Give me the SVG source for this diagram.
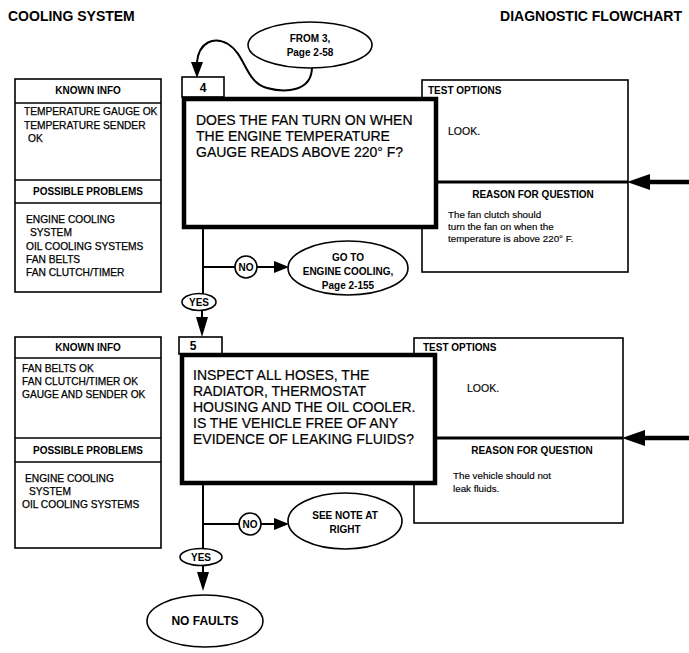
<svg xmlns="http://www.w3.org/2000/svg" width="689" height="653" viewBox="0 0 689 653">
<defs>
<style>
text{font-family:"Liberation Sans",Arial,sans-serif;fill:#000}
.h{font-size:14px;font-weight:bold}
.b{font-size:10px;font-weight:bold}
.i{font-size:10.2px;stroke:#000;stroke-width:0.25}
.q{font-size:14px;stroke:#000;stroke-width:0.2}
.r{font-size:9.8px;stroke:#000;stroke-width:0.15}
.c{text-anchor:middle}
.box{fill:#fff;stroke:#000;stroke-width:1.6}
.thick{fill:#fff;stroke:#000;stroke-width:4.5}
.ln{fill:none;stroke:#000;stroke-width:2}
.ah{fill:#000}
</style>
</defs>
<rect width="689" height="653" fill="#fff"/>
<text class="h" x="8" y="21">COOLING SYSTEM</text>
<text class="h" x="682" y="21" text-anchor="end">DIAGNOSTIC FLOWCHART</text>

<g id="connectors">
<path class="ln" d="M312,67 C312,92 285,93 267,88 C245,82 246,55 228,44 C214,36 199,42 197,62"/>
<polygon class="ah" points="191,62 203,62 197,78"/>
<line class="ln" x1="203" y1="227" x2="203" y2="294"/>
<line class="ln" x1="203" y1="267" x2="235" y2="267"/>
<line class="ln" x1="257" y1="267" x2="276" y2="267"/>
<polygon class="ah" points="274,261 274,273 289,267"/>
<line class="ln" x1="202" y1="310" x2="202" y2="320"/>
<polygon class="ah" points="196,317 208,317 202,337"/>
<line class="ln" x1="203" y1="483" x2="203" y2="549"/>
<line class="ln" x1="203" y1="524" x2="239" y2="524"/>
<line class="ln" x1="261" y1="524" x2="276" y2="524"/>
<polygon class="ah" points="274,518 274,530 289,524"/>
<line class="ln" x1="203" y1="565" x2="203" y2="575"/>
<polygon class="ah" points="197,572 209,572 203,591"/>
<line x1="689" y1="182" x2="645" y2="182" stroke="#000" stroke-width="4.5"/>
<polygon class="ah" points="627,182 650,174 650,190"/>
<line x1="689" y1="438" x2="640" y2="438" stroke="#000" stroke-width="4.5"/>
<polygon class="ah" points="622,438 645,430 645,446"/>
</g>

<g id="from3">
<ellipse class="box" cx="310" cy="45" rx="62" ry="23"/>
<text class="b c" x="310" y="42">FROM 3,</text>
<text class="b c" x="310" y="56">Page 2-58</text>
</g>

<g id="info4">
<rect class="box" x="15" y="79" width="146" height="213"/>
<line class="ln" x1="15" y1="103" x2="161" y2="103" style="stroke-width:1.6"/>
<line class="ln" x1="15" y1="180" x2="161" y2="180" style="stroke-width:1.6"/>
<line class="ln" x1="15" y1="203" x2="161" y2="203" style="stroke-width:1.6"/>
<text class="b c" x="88" y="94">KNOWN INFO</text>
<text class="i" x="24" y="115">TEMPERATURE GAUGE OK</text>
<text class="i" x="24" y="129">TEMPERATURE SENDER</text>
<text class="i" x="28" y="142">OK</text>
<text class="b c" x="88" y="195">POSSIBLE PROBLEMS</text>
<text class="i" x="26" y="223">ENGINE COOLING</text>
<text class="i" x="30" y="236">SYSTEM</text>
<text class="i" x="26" y="250">OIL COOLING SYSTEMS</text>
<text class="i" x="26" y="263">FAN BELTS</text>
<text class="i" x="26" y="276">FAN CLUTCH/TIMER</text>
</g>

<g id="test4">
<rect class="box" x="422" y="80" width="206" height="192"/>
<text class="b" x="428" y="94">TEST OPTIONS</text>
<text class="r" x="448" y="135" style="font-size:10.5px">LOOK.</text>
<line x1="436" y1="182" x2="628" y2="182" stroke="#000" stroke-width="3"/>
<text class="b c" x="533" y="198">REASON FOR QUESTION</text>
<text class="r" x="448" y="218">The fan clutch should</text>
<text class="r" x="448" y="230">turn the fan on when the</text>
<text class="r" x="448" y="242">temperature is above 220° F.</text>
</g>

<g id="step4">
<rect class="box" x="182" y="77" width="42" height="20"/>
<text class="b c" x="203" y="92" style="font-size:12px">4</text>
<rect class="thick" x="184" y="99" width="252" height="128"/>
<text class="q" x="196" y="125">DOES THE FAN TURN ON WHEN</text>
<text class="q" x="196" y="141">THE ENGINE TEMPERATURE</text>
<text class="q" x="196" y="157">GAUGE READS ABOVE 220° F?</text>
</g>

<g id="no4">
<circle class="box" cx="246" cy="267" r="11"/>
<text class="b c" x="246" y="271">NO</text>
</g>
<g id="goto">
<ellipse class="box" cx="348" cy="268" rx="60" ry="27"/>
<text class="b c" x="348" y="261">GO TO</text>
<text class="b c" x="348" y="275">ENGINE COOLING,</text>
<text class="b c" x="348" y="289">Page 2-155</text>
</g>
<g id="yes4">
<ellipse class="box" cx="199" cy="302" rx="17" ry="8.5"/>
<text class="b c" x="199" y="306">YES</text>
</g>

<g id="info5">
<rect class="box" x="15" y="337" width="146" height="211"/>
<line class="ln" x1="15" y1="358" x2="161" y2="358" style="stroke-width:1.6"/>
<line class="ln" x1="15" y1="438" x2="161" y2="438" style="stroke-width:1.6"/>
<line class="ln" x1="15" y1="462" x2="161" y2="462" style="stroke-width:1.6"/>
<text class="b c" x="88" y="351">KNOWN INFO</text>
<text class="i" x="22" y="372">FAN BELTS OK</text>
<text class="i" x="22" y="385">FAN CLUTCH/TIMER OK</text>
<text class="i" x="22" y="398">GAUGE AND SENDER OK</text>
<text class="b c" x="88" y="454">POSSIBLE PROBLEMS</text>
<text class="i" x="25" y="482">ENGINE COOLING</text>
<text class="i" x="29" y="495">SYSTEM</text>
<text class="i" x="22" y="508">OIL COOLING SYSTEMS</text>
</g>

<g id="test5">
<rect class="box" x="414" y="338" width="209" height="185"/>
<text class="b" x="423" y="351">TEST OPTIONS</text>
<text class="r" x="467" y="392" style="font-size:10.5px">LOOK.</text>
<line x1="435" y1="438" x2="623" y2="438" stroke="#000" stroke-width="3"/>
<text class="b c" x="532" y="454">REASON FOR QUESTION</text>
<text class="r" x="453" y="479">The vehicle should not</text>
<text class="r" x="453" y="492">leak fluids.</text>
</g>

<g id="step5">
<rect class="box" x="179" y="337" width="43" height="17"/>
<text class="b c" x="193" y="350" style="font-size:12px">5</text>
<rect class="thick" x="182" y="355" width="253" height="128"/>
<text class="q" x="193" y="380">INSPECT ALL HOSES, THE</text>
<text class="q" x="193" y="396">RADIATOR, THERMOSTAT</text>
<text class="q" x="193" y="412">HOUSING AND THE OIL COOLER.</text>
<text class="q" x="193" y="428">IS THE VEHICLE FREE OF ANY</text>
<text class="q" x="193" y="444">EVIDENCE OF LEAKING FLUIDS?</text>
</g>

<g id="no5">
<circle class="box" cx="250" cy="524" r="11"/>
<text class="b c" x="250" y="528">NO</text>
</g>
<g id="seenote">
<ellipse class="box" cx="345" cy="521" rx="57" ry="28"/>
<text class="b c" x="345" y="519">SEE NOTE AT</text>
<text class="b c" x="345" y="533">RIGHT</text>
</g>
<g id="yes5">
<ellipse class="box" cx="201" cy="557" rx="21" ry="8.5"/>
<text class="b c" x="201" y="561">YES</text>
</g>
<g id="nofaults">
<ellipse class="box" cx="205" cy="621" rx="58" ry="26"/>
<text class="b c" x="205" y="625" style="font-size:12px">NO FAULTS</text>
</g>
</svg>
